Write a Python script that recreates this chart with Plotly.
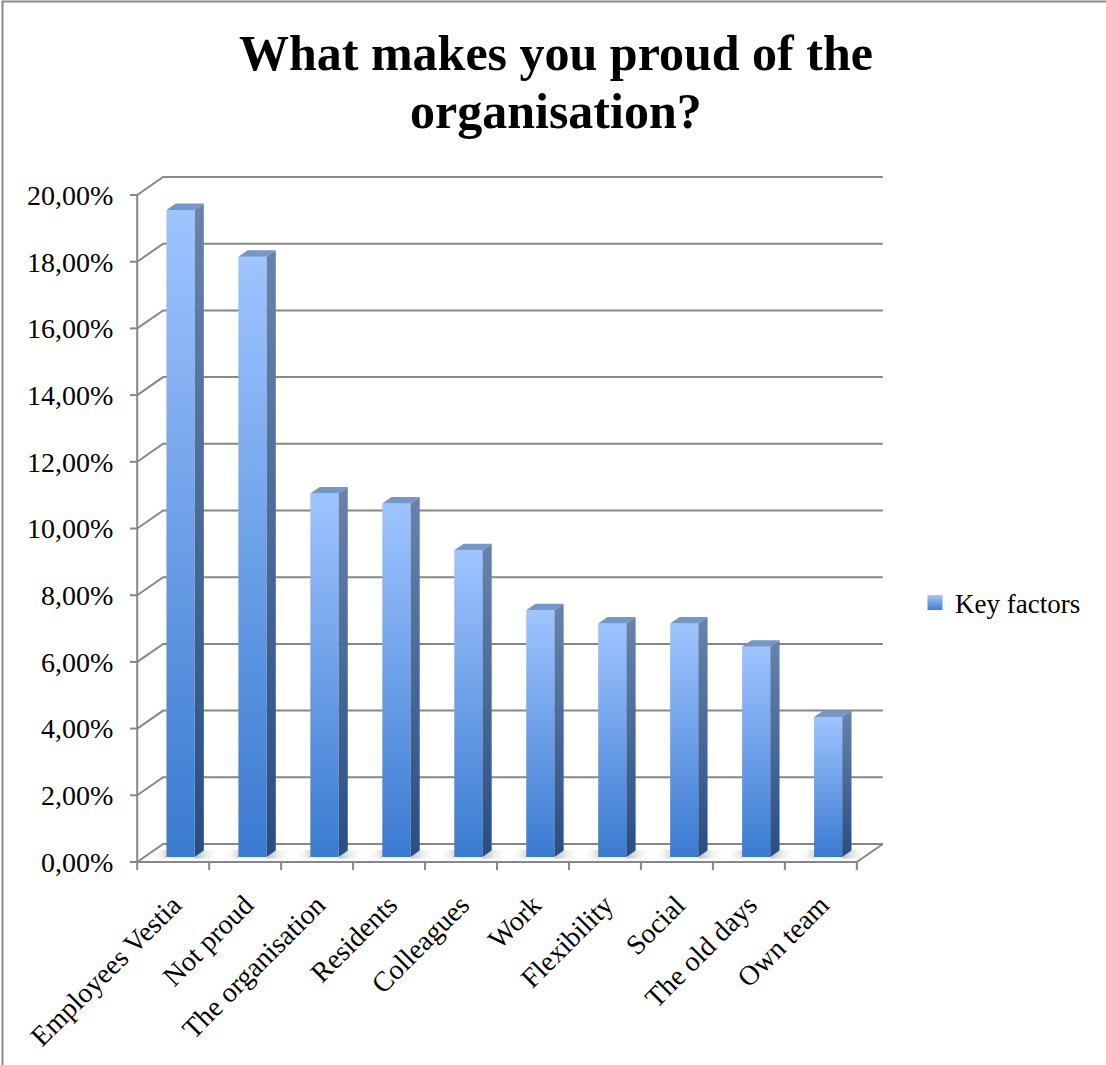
import plotly.graph_objects as go

# ---- data -------------------------------------------------------------
categories = ["Employees Vestia", "Not proud", "The organisation", "Residents",
              "Colleagues", "Work", "Flexibility", "Social", "The old days", "Own team"]
values = [19.4, 18.0, 10.9, 10.6, 9.2, 7.4, 7.0, 7.0, 6.3, 4.2]   # percent
series_name = "Key factors"
y_ticks = [0, 2, 4, 6, 8, 10, 12, 14, 16, 18, 20]
y_tick_labels = ["0,00%", "2,00%", "4,00%", "6,00%", "8,00%", "10,00%",
                 "12,00%", "14,00%", "16,00%", "18,00%", "20,00%"]
title_lines = ["What makes you proud of the", "organisation?"]

# ---- oblique 3-D projection settings (data units) ----------------------
DX, DY = 0.361, 0.54        # full depth of the plot box
BAR_POS = 0.28              # where the bars stand inside the depth
BAR_DEPTH = 0.36            # depth of a single column
BAR_W = 0.39                # width of a column's front face

FONT = "Liberation Serif"
GRID = "#878787"

n = len(categories)
fig = go.Figure()

# back-wall gridlines with their diagonal connectors to the front axis
gx, gy = [], []
for t in y_ticks:
    gx += [0, DX, n + DX, None]
    gy += [t, t + DY, t + DY, None]
# floor front edge and right-hand diagonal
gx += [0, n, n + DX, None]
gy += [0, 0, DY, None]
# vertical value axis and its ticks
gx += [0, 0, None]
gy += [0, y_ticks[-1], None]
for t in y_ticks:
    gx += [-0.1, 0, None]
    gy += [t, t, None]
# category boundary ticks under the floor
for k in range(n + 1):
    gx += [k, k, None]
    gy += [0, -0.24, None]
fig.add_trace(go.Scatter(x=gx, y=gy, mode="lines", line=dict(color=GRID, width=2),
                         hoverinfo="skip", showlegend=False))

# soft floor shadows beside each column base
for i in range(n):
    x0 = i + 0.5 - BAR_W / 2 + BAR_POS * DX
    x1 = x0 + BAR_W
    y0 = BAR_POS * DY
    for sx0, sx1, cs in [(x0 - 0.22, x0, [[0, "rgba(255,255,255,0)"], [1, "rgba(150,150,150,0.55)"]]),
                         (x1, x1 + 0.3, [[0, "rgba(140,140,140,0.6)"], [1, "rgba(255,255,255,0)"]])]:
        fig.add_trace(go.Scatter(
            x=[sx0, sx1, sx1 + 0.06, sx0 + 0.06, sx0],
            y=[y0 - 0.05, y0 - 0.05, y0 + 0.2, y0 + 0.2, y0 - 0.05],
            mode="lines", line=dict(width=0), fill="toself",
            fillgradient=dict(type="horizontal", colorscale=cs),
            hoverinfo="skip", showlegend=False))

# columns: front face, side face, top face
for i, (cat, v) in enumerate(zip(categories, values)):
    x0 = i + 0.5 - BAR_W / 2 + BAR_POS * DX
    x1 = x0 + BAR_W
    y0 = BAR_POS * DY
    y1 = y0 + v
    ddx, ddy = BAR_DEPTH * DX, BAR_DEPTH * DY
    # right side face
    fig.add_trace(go.Scatter(
        x=[x1, x1 + ddx, x1 + ddx, x1, x1], y=[y0, y0 + ddy, y1 + ddy, y1, y0],
        mode="lines", line=dict(width=0), fill="toself",
        fillgradient=dict(type="vertical", colorscale=[[0, "#284d84"], [1, "#6a82ac"]]),
        hoverinfo="skip", showlegend=False))
    # front face
    fig.add_trace(go.Scatter(
        x=[x0, x1, x1, x0, x0], y=[y0, y0, y1, y1, y0],
        mode="lines", line=dict(width=0), fill="toself",
        fillgradient=dict(type="vertical", colorscale=[[0, "#3a7ad0"], [1, "#9fc4ff"]]),
        name=cat, text=[f"{v:.2f}%".replace(".", ",")] * 5,
        hoverinfo="name+text", showlegend=False))
    # top face
    fig.add_trace(go.Scatter(
        x=[x0, x1, x1 + ddx, x0 + ddx, x0], y=[y1, y1, y1 + ddy, y1 + ddy, y1],
        mode="lines", line=dict(width=0), fill="toself", fillcolor="#7396cb",
        hoverinfo="skip", showlegend=False))

# legend entry (light top, darker bottom)
fig.add_trace(go.Scatter(
    x=[None], y=[None], mode="markers", name=series_name,
    marker=dict(symbol="square", size=15, color="#a3c6ff",
                gradient=dict(type="vertical", color="#3f7fd3")),
    showlegend=True))

L, R, T, B = 130, 206, 175, 183
W, H = 1106, 1065
pw, ph = W - L - R, H - T - B


def px_to_paper(px, py):
    return (px - L) / pw, (H - B - py) / ph


bx0, by0 = px_to_paper(2.5, 1.5)
bx1, by1 = px_to_paper(1112, 1072)

annotations = []
for line, cy in zip(title_lines, [53, 111]):
    ax, ay = px_to_paper(556, cy)
    annotations.append(dict(text=f"<b>{line}</b>", xref="paper", yref="paper",
                            x=ax, y=ay, xanchor="center", yanchor="middle",
                            showarrow=False, font=dict(family=FONT, size=50, color="black")))

fig.update_layout(
    width=W, height=H,
    margin=dict(l=L, r=R, t=T, b=B),
    paper_bgcolor="white", plot_bgcolor="white",
    font=dict(family=FONT, color="black"),
    annotations=annotations,
    xaxis=dict(range=[-0.1, n + 0.6], tickvals=[i + 0.5 for i in range(n)],
               ticktext=categories, tickangle=-45, tickfont=dict(size=28),
               showgrid=False, zeroline=False, showline=False, ticks=""),
    yaxis=dict(range=[-0.6, 20.6], tickvals=y_ticks, ticktext=y_tick_labels,
               tickfont=dict(size=28), ticks="outside", ticklen=10,
               tickcolor="rgba(0,0,0,0)", showgrid=False, zeroline=False, showline=False),
    legend=dict(x=px_to_paper(915, 0)[0], xanchor="left",
                y=px_to_paper(0, 603)[1], yanchor="middle",
                font=dict(size=27, family=FONT), bgcolor="rgba(0,0,0,0)"),
    shapes=[dict(type="rect", xref="paper", yref="paper", x0=bx0, y0=by1, x1=bx1, y1=by0,
                 line=dict(color="#8a8a8a", width=2), fillcolor="rgba(0,0,0,0)", layer="below")],
)

fig.write_html("out.html")
